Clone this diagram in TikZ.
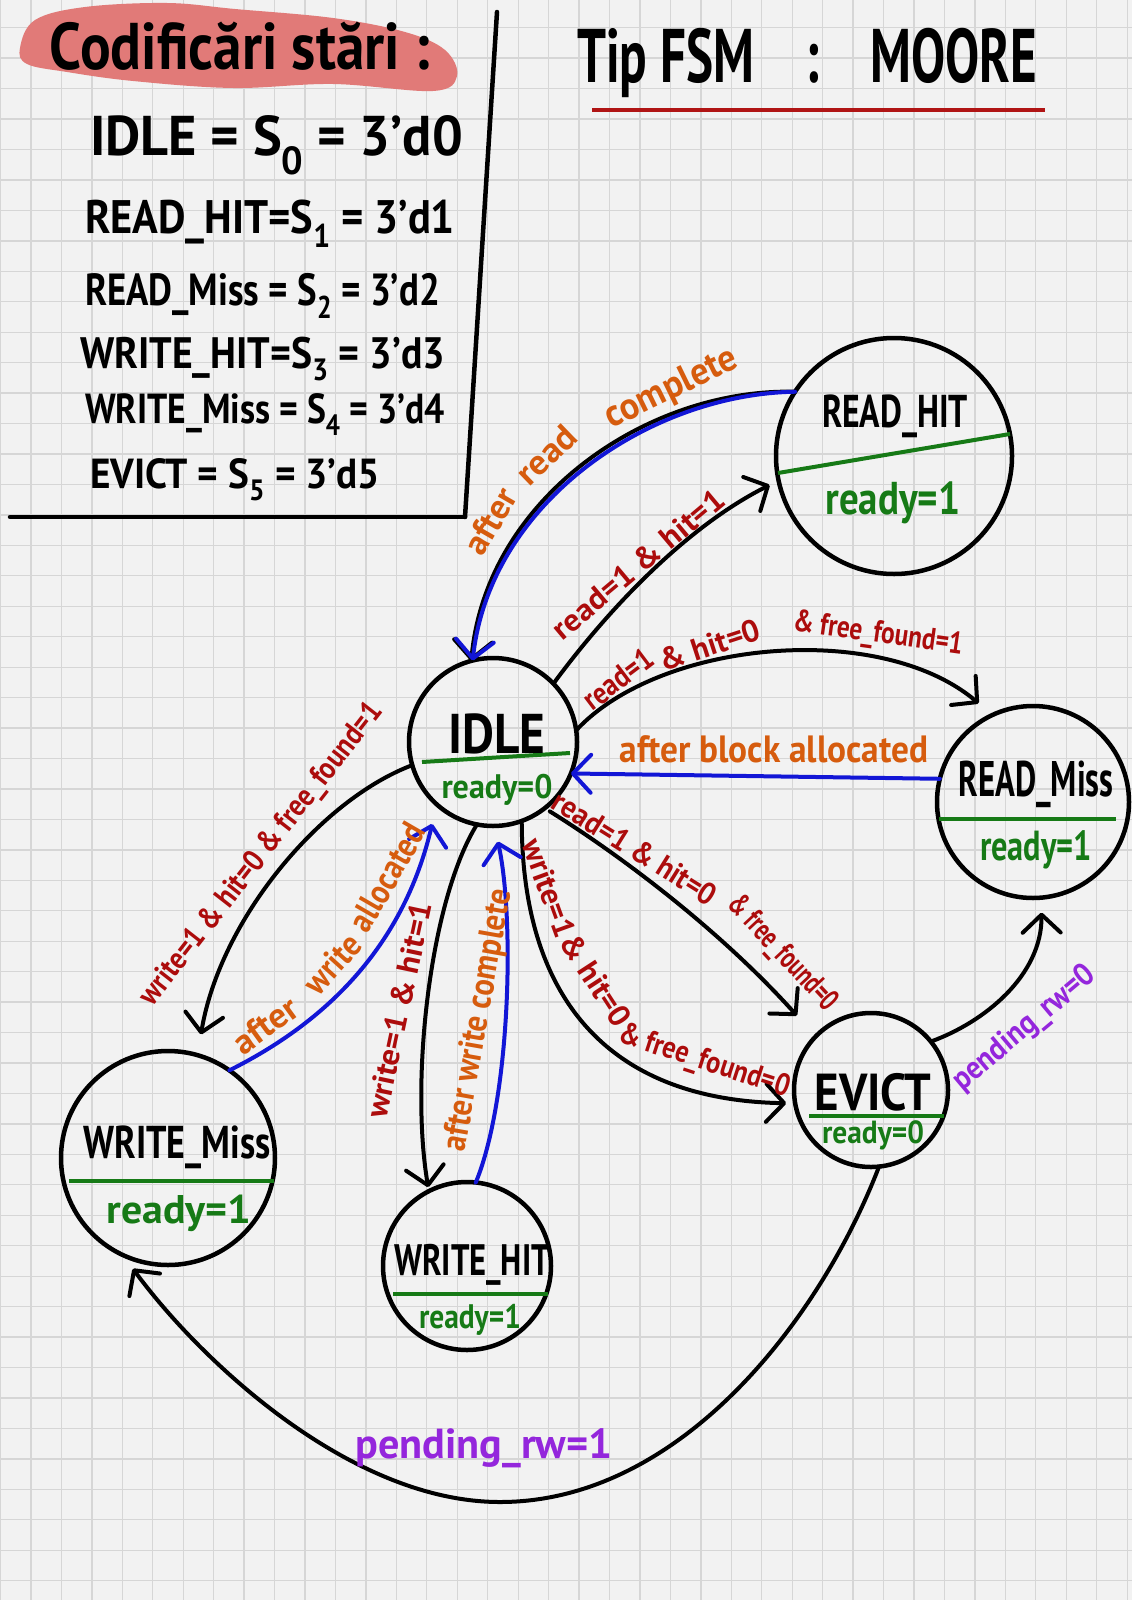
\documentclass[tikz,border=0pt]{standalone}
\usepackage{fontspec}
\setmainfont{PT Sans}
\usepackage{graphicx}
\usetikzlibrary{arrows.meta}
\definecolor{bgc}{RGB}{242,242,242}
\definecolor{gridc}{RGB}{214,214,214}
\definecolor{lblred}{RGB}{172,12,12}
\definecolor{lblorange}{RGB}{214,92,14}
\definecolor{lnblue}{RGB}{18,22,214}
\definecolor{okgreen}{RGB}{22,122,22}
\definecolor{purp}{RGB}{148,38,220}
\definecolor{blob}{RGB}{225,122,120}
\definecolor{ulred}{RGB}{176,20,20}
\newcommand{\fw}[2]{\resizebox{#1pt}{\height}{#2}}
\newcommand{\fs}[1]{\fontsize{#1}{#1}\selectfont\bfseries}
\begin{document}
\begin{tikzpicture}[x=1pt,y=-1pt,
  every node/.style={inner sep=0pt, outer sep=0pt},
  state/.style={circle, draw=black, line width=4.5pt, minimum size=#1},
  nm/.style={text=black, font=\fs{44}},
  rdy/.style={text=okgreen, font=\fs{36}},
  cond/.style={text=lblred, font=\fs{31}},
  act/.style={text=lblorange, font=\fs{35}},
  pend/.style={text=purp, font=\fs{32}},
  divline/.style={draw=okgreen, line width=4pt},
  trans/.style={draw=black, line width=4pt, line cap=round, line join=round, -{Straight Barb[length=18pt,width=38pt,round]}},
  back/.style={draw=lnblue, line width=4pt, line cap=round, line join=round, -{Straight Barb[length=18pt,width=38pt,round]}},
  gridline/.style={draw=gridc, line width=1.3pt},
  boxline/.style={draw=black, line width=4.5pt, line cap=round}]

\useasboundingbox (0,0) rectangle (1132,1600);
\fill[bgc] (0,0) rectangle (1132,1600);
\foreach \i in {0,...,37} {\draw[gridline] ({0.5+30.45*\i},0) -- ({0.5+30.45*\i},1600);}
\foreach \j in {1,...,52} {\draw[gridline] (0,{-2.75+30.45*\j}) -- (1132,{-2.75+30.45*\j});}

% highlighter blob and header
\fill[blob] plot[smooth cycle, tension=0.6] coordinates {(20,48) (35,20) (85,7) (167,3) (235,9) (333,18) (405,32) (445,50) (457,76) (433,91) (333,84) (233,88) (133,81) (67,72) (27,64)};
\node[nm, font=\fs{66}] (cod) at (240,46) {\fw{380}{Codificări stări :}};

% encoding table
\node[nm, font=\fs{56}, anchor=base west] (e0) at (90,155) {\fw{373}{IDLE = S\textsubscript{0} = 3'd0}};
\node[nm, font=\fs{47}, anchor=base west] (e1) at (85,233) {\fw{370}{READ\_HIT=S\textsubscript{1} = 3'd1}};
\node[nm, font=\fs{45}, anchor=base west] (e2) at (85,305) {\fw{355}{READ\_Miss = S\textsubscript{2} = 3'd2}};
\node[nm, font=\fs{44}, anchor=base west] (e3) at (80,368) {\fw{365}{WRITE\_HIT=S\textsubscript{3} = 3'd3}};
\node[nm, font=\fs{42}, anchor=base west] (e4) at (85,423) {\fw{360}{WRITE\_Miss = S\textsubscript{4} = 3'd4}};
\node[nm, font=\fs{42}, anchor=base west] (e5) at (90,488) {\fw{290}{EVICT = S\textsubscript{5} = 3'd5}};
\draw[boxline] (497,12) -- (465,517);
\draw[boxline] (10,517) -- (465,517);

% title
\node[nm, font=\fs{76}] (title) at (807,63) {\fw{460}{Tip FSM\quad:\quad MOORE}};
\draw[draw=ulred, line width=4.5pt] (592,110) -- (1045,110);

% states
\node[state=168pt] (idle) at (493,742) {};
\node[state=236pt] (rh) at (894,456) {};
\node[state=192pt] (rm) at (1033,802) {};
\node[state=154pt] (ev) at (871,1090) {};
\node[state=214pt] (wm) at (168,1158) {};
\node[state=168pt] (wh) at (467,1266) {};

\draw[divline] (422,762) -- (570,753);
\draw[divline] (778,473) -- (1010,434);
\draw[divline] (939,819) -- (1116,819);
\draw[divline] (809,1116) -- (944,1116);
\draw[divline] (69,1181) -- (274,1181);
\draw[divline] (393,1294) -- (548,1294);

\node[nm, font=\fs{56}] (idleN) at (497,734) {\fw{97}{IDLE}};
\node[rdy, font=\fs{34}] (idleR) at (497,790) {\fw{111}{ready=0}};
\node[nm, font=\fs{46}] (rhN) at (895,416) {\fw{146}{READ\_HIT}};
\node[rdy, font=\fs{46}] (rhR) at (893,503) {\fw{135}{ready=1}};
\node[nm, font=\fs{50}] (rmN) at (1036,784) {\fw{155}{READ\_Miss}};
\node[rdy, font=\fs{42}] (rmR) at (1036,850) {\fw{112}{ready=1}};
\node[nm, font=\fs{52}] (evN) at (873,1092) {\fw{117}{EVICT}};
\node[rdy, font=\fs{32}] (evR) at (873,1135) {\fw{102}{ready=0}};
\node[nm, font=\fs{46}] (wmN) at (177,1147) {\fw{187}{WRITE\_Miss}};
\node[rdy, font=\fs{40}] (wmR) at (179,1213) {\fw{145}{ready=1}};
\node[nm, font=\fs{44}] (whN) at (472,1265) {\fw{156}{WRITE\_HIT}};
\node[rdy, font=\fs{34}] (whR) at (470,1320) {\fw{102}{ready=1}};

% transitions
\draw[trans, shorten >=10pt] (idle.44) .. controls (600,620) and (680,530) .. (rh.192);
\draw[trans] (rh.147) .. controls (647,388) and (486,499) .. (idle.105);
\draw[back] (rh.147) .. controls (650,394) and (490,502) .. (idle.104);
\draw[trans, shorten >=18pt] (idle.8) .. controls (660,640) and (880,620) .. (rm.115);
\draw[back] (rm.166) -- (idle.-22);
\draw[trans, shorten >=28pt, shorten <=6pt] (idle.-52) .. controls (620,855) and (720,930) .. (ev.136);
\draw[trans, shorten >=9pt] (idle.-70) .. controls (522,1000) and (610,1100) .. (ev.190);
\draw[trans, shorten >=21pt] (idle.196) .. controls (320,800) and (220,920) .. (wm.74);
\draw[back, shorten >=20pt] (wm.55) .. controls (310,1030) and (400,960) .. (idle.-132);
\draw[trans, shorten >=4pt] (idle.-101) .. controls (430,900) and (410,1080) .. (wh.117);
\draw[back, shorten >=16pt] (wh.84) .. controls (510,1100) and (515,920) .. (idle.-89);
\draw[trans, shorten >=15pt] (ev.39) .. controls (985,1022) and (1042,975) .. (rm.-85);
\draw[trans, shorten >=17pt] (ev.-84) .. controls (820,1320) and (680,1502) .. (500,1502) .. controls (350,1502) and (200,1360) .. (wm.-115);

% labels
\node[cond, rotate=40] (c1) at (638,564) {\fw{215}{read=1 \& hit=1}};
\node[act, rotate=60] (a1a) at (490,521) {\fw{71}{after}};
\node[act, rotate=44] (a1b) at (546,455) {\fw{69}{read}};
\node[act, rotate=26, font=\fs{38}] (a1c) at (672,389) {\fw{143}{complete}};
\node[cond, rotate=37] (c2a) at (618,679) {\fw{80}{read=1}};
\node[cond, rotate=18] (c2b) at (710,645) {\fw{104}{\& hit=0}};
\node[cond, rotate=-8] (c2c) at (878,635) {\fw{171}{\& free\_found=1}};
\node[act, font=\fs{38}] (a2) at (774,749) {\fw{309}{after block allocated}};
\node[cond, rotate=-32] (c3a) at (635,848) {\fw{187}{read=1 \& hit=0}};
\node[cond, rotate=-47] (c3b) at (782,954) {\fw{146}{\& free\_found=0}};
\node[cond, rotate=-70] (c4a) at (549,888) {\fw{102}{write=1}};
\node[cond, rotate=-57] (c4b) at (596,980) {\fw{104}{\& hit=0}};
\node[cond, rotate=-18] (c4c) at (704,1062) {\fw{178}{\& free\_found=0}};
\node[cond, rotate=52] (c5) at (262,855) {\fw{375}{write=1 \& hit=0 \& free\_found=1}};
\node[act, rotate=36] (a3a) at (265,1025) {\fw{72}{after}};
\node[act, rotate=48] (a3b) at (332,964) {\fw{68}{write}};
\node[act, rotate=60] (a3c) at (387,877) {\fw{118}{allocated}};
\node[cond, rotate=78] (c6) at (399,1010) {\fw{220}{write=1 \& hit=1}};
\node[act, rotate=80] (a4) at (479,1020) {\fw{265}{after write complete}};
\node[pend, rotate=40] (p0) at (1025,1029) {\fw{176}{pending\_rw=0}};
\node[pend, font=\fs{42}] (p1) at (484,1448) {\fw{257}{pending\_rw=1}};
\end{tikzpicture}
\end{document}
